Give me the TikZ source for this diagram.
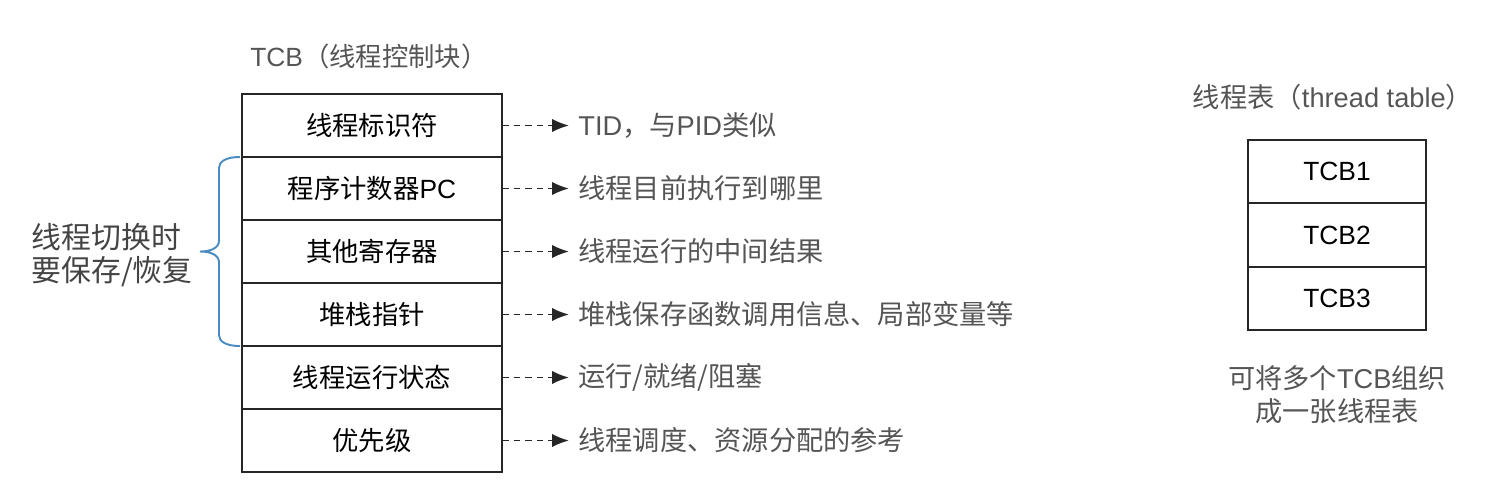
\documentclass[tikz,border=0pt]{standalone}
\usepackage{fontspec}
\setmainfont{Noto Sans CJK SC}
\newfontfamily\latinfont{Liberation Sans}
\newcommand{\en}[1]{{\latinfont #1}}
\usetikzlibrary{positioning,calc,arrows.meta}
\definecolor{notegray}{HTML}{555555}
\definecolor{savegray}{HTML}{444444}
\definecolor{braceblue}{HTML}{4A8CC2}
\tikzset{
    tcbcell/.style={
        rectangle,                % una fila de la tabla TCB
        draw=black!85,
        line width=1pt,
        minimum width=5.2cm,
        minimum height=1.26cm,
        outer sep=0pt,            % filas pegadas sin hueco
        font=\fontsize{15}{18}\selectfont
    },
    tablecell/.style={
        tcbcell,
        minimum width=3.56cm,
        minimum height=1.267cm,
        font=\fontsize{15}{18}\selectfont
    },
    note/.style={
        inner xsep=0.18cm,        % hueco entre la flecha y el texto
        inner ysep=0pt,
        text=notegray,
        font=\fontsize{15.5}{18}\selectfont
    },
    titletext/.style={
        inner sep=0pt,
        text=notegray,
        font=\fontsize{15}{18}\selectfont
    },
    notearrow/.style={
        draw=black!85,
        dash pattern=on 0.13cm off 0.1cm,
        line width=1.1pt,
        -{Latex[length=0.34cm,width=0.27cm]}
    },
    regbrace/.style={
        draw=braceblue,
        line width=1.1pt
    }
}
\begin{document}
\begin{tikzpicture}
    \useasboundingbox (0,0) rectangle (29.82,-9.86);

    % tabla TCB
    \node[tcbcell, anchor=north west] (tid) at (4.84,-1.88) {线程标识符};
    \node[tcbcell, below=0pt of tid] (pc) {程序计数器\en{PC}};
    \node[tcbcell, below=0pt of pc] (reg) {其他寄存器};
    \node[tcbcell, below=0pt of reg] (stk) {堆栈指针};
    \node[tcbcell, below=0pt of stk] (state) {线程运行状态};
    \node[tcbcell, below=0pt of state] (prio) {优先级};

    \node[titletext, above right=0.5cm and 0.16cm of tid.north west] (tcbtitle) {\en{TCB}（线程控制块）};

    % notas a la derecha
    \node[note, right=1.34cm of tid] (tidnote) {\en{TID}，与\en{PID}类似};
    \node[note, right=1.34cm of pc] (pcnote) {线程目前执行到哪里};
    \node[note, right=1.34cm of reg] (regnote) {线程运行的中间结果};
    \node[note, right=1.34cm of stk] (stknote) {堆栈保存函数调用信息、局部变量等};
    \node[note, right=1.34cm of state] (statenote) {运行/就绪/阻塞};
    \node[note, right=1.34cm of prio] (prionote) {线程调度、资源分配的参考};

    \draw[notearrow] (tid) -- (tidnote);
    \draw[notearrow] (pc) -- (pcnote);
    \draw[notearrow] (reg) -- (regnote);
    \draw[notearrow] (stk) -- (stknote);
    \draw[notearrow] (state) -- (statenote);
    \draw[notearrow] (prio) -- (prionote);

    % llave de registros guardados
    \coordinate (bracetop) at ([xshift=-0.04cm]pc.north west);
    \coordinate (bracebot) at ([xshift=-0.04cm]stk.south west);
    \coordinate (bracemid) at ($(bracetop)!0.5!(bracebot)$);
    \coordinate (bracetip) at ($(bracemid)+(-0.8,0)$);
    \draw[regbrace] (bracetop)
        .. controls +(-0.3,0) and +(0,0.12) .. ($(bracetop)+(-0.42,-0.22)$)
        -- ($(bracemid)+(-0.42,0.22)$)
        .. controls +(0,-0.16) and +(0.2,0) .. (bracetip)
        .. controls +(0.2,0) and +(0,0.16) .. ($(bracemid)+(-0.42,-0.22)$)
        -- ($(bracebot)+(-0.42,0.22)$)
        .. controls +(0,-0.12) and +(-0.3,0) .. (bracebot);
    \node[inner sep=0pt, align=left, text=savegray,
          font=\fontsize{17}{18.8}\selectfont, left=0.14cm of bracetip, yshift=-0.08cm] (savetext)
          {线程切换时\\要保存/恢复};

    % tabla de hilos
    \node[tablecell, anchor=north west] (tcb1) at (24.96,-2.8) {\en{TCB1}};
    \node[tablecell, below=0pt of tcb1] (tcb2) {\en{TCB2}};
    \node[tablecell, below=0pt of tcb2] (tcb3) {\en{TCB3}};

    \node[titletext, above=0.6cm of tcb1, xshift=-0.08cm, font=\fontsize{15.5}{18}\selectfont] (tabletitle) {线程表（\en{thread table}）};
    \node[titletext, align=center, font=\fontsize{15.5}{18.8}\selectfont,
          below=0.7cm of tcb3] (tablenote) {可将多个\en{TCB}组织\\成一张线程表};
\end{tikzpicture}
\end{document}
